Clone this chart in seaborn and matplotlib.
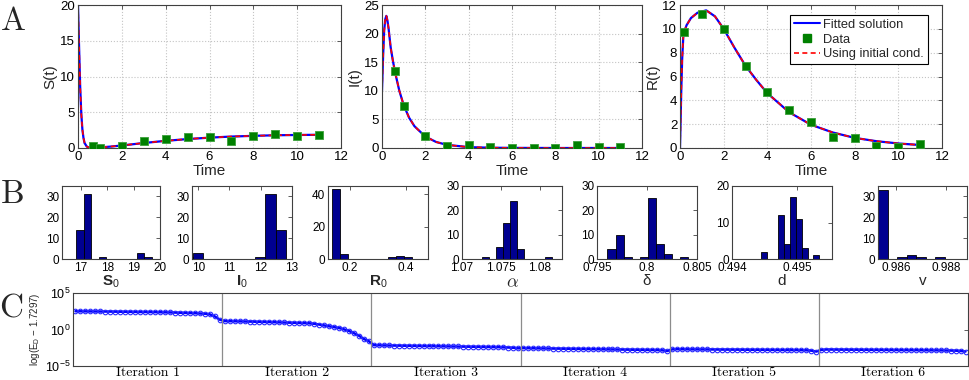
import numpy as np
import pandas as pd
import matplotlib
matplotlib.use("Agg")
import matplotlib.pyplot as plt
import seaborn as sns
from matplotlib.lines import Line2D
from matplotlib.ticker import LogFormatterMathtext, NullLocator

# ---------------- panel A: model curves and observed data ----------------
t_S = [0, 0.05, 0.1, 0.15, 0.2, 0.25, 0.3, 0.4, 0.5, 0.7, 1.0, 1.5, 2, 3, 4, 5, 6, 7, 8, 9, 10, 11]
S_fit = [20, 14, 8.5, 4.8, 2.6, 1.4, 0.7, 0.2, 0.06, 0.02, 0.08, 0.2, 0.35, 0.7, 1.0, 1.25, 1.45, 1.6, 1.7, 1.78, 1.82, 1.85]
t_I = [0, 0.05, 0.1, 0.15, 0.2, 0.25, 0.3, 0.4, 0.5, 0.6, 0.8, 1.0, 1.25, 1.5, 2, 2.5, 3, 4, 5, 6, 8, 11]
I_fit = [10, 16, 20.5, 22.5, 23.1, 22.3, 21, 17.6, 15.3, 13.3, 10, 7.5, 5.3, 3.8, 2.0, 1.05, 0.55, 0.15, 0.05, 0.02, 0.0, 0.0]
t_R = [0, 0.03, 0.06, 0.1, 0.15, 0.2, 0.3, 0.5, 0.8, 1.2, 1.6, 2, 2.5, 3, 3.5, 4, 5, 6, 7, 8, 9, 10, 11]
R_fit = [0, 2.5, 5, 7.5, 9.3, 9.8, 10.3, 10.9, 11.35, 11.55, 11.05, 10.0, 8.4, 6.9, 5.7, 4.6, 3.0, 1.95, 1.3, 0.85, 0.57, 0.38, 0.25]

tS_obs = [0.67, 1, 2, 3, 4, 5, 6, 7, 8, 9, 10, 11]
S_obs = [0.23, 0.0, 0.28, 0.98, 1.26, 1.53, 1.49, 1.02, 1.72, 2.0, 1.72, 1.86]
tI_obs = [0.6, 1, 2, 3, 4, 5, 6, 7, 8, 9, 10, 11]
I_obs = [13.4, 7.4, 2.15, 0.4, 0.52, 0.17, 0.05, 0.05, 0.05, 0.52, 0.23, 0.1]
tR_obs = [0.17, 1, 2, 3, 4, 5, 6, 7, 8, 9, 10, 11]
R_obs = [9.75, 11.25, 10.0, 6.85, 4.7, 3.2, 2.15, 0.95, 0.8, 0.2, 0.1, 0.3]

legend_labels = ["Fitted solution", "Data", "Using initial cond."]

# ---------------- panel B: bootstrap histograms (10 bins each) ----------------
S0_range = (16.81, 19.70)
S0_counts = [14, 31, 0, 1, 0, 0, 0, 0, 3, 1]
I0_range = (9.50, 12.81)
I0_counts = [1, 3, 0, 0, 0, 0, 0, 1, 31, 14]
R0_range = (0.137, 0.4225)
R0_counts = [43, 3, 0, 0, 0, 0, 0, 1, 2, 1]
alpha_range = (1.0726, 1.08158)
alpha_counts = [1, 0, 5, 15, 24, 4, 0, 0, 0, 1]
delta_range = (0.79605, 0.80409)
delta_counts = [4, 10, 1, 0, 1, 25, 6, 2, 0, 1]
d_range = (0.494442, 0.495343)
d_counts = [2, 0, 0, 12, 4, 17, 11, 3, 0, 1]
v_range = (0.98529, 0.98797)
v_counts = [33, 0, 1, 2, 1, 0, 1]

# ---------------- panel C: convergence of the error, log10(E_D - 1.7297) ----------------
iter1 = [2.50, 2.49, 2.49, 2.48, 2.47, 2.47, 2.46, 2.45, 2.44, 2.44, 2.43, 2.42, 2.41, 2.40, 2.40,
         2.39, 2.38, 2.37, 2.36, 2.34, 2.32, 2.30, 2.28, 2.26, 2.23, 2.20, 2.16, 2.08, 1.80, 1.35]
iter2 = [1.15, 1.14, 1.13, 1.11, 1.10, 1.08, 1.07, 1.05, 1.04, 1.02, 1.00, 0.98, 0.96, 0.94, 0.92,
         0.90, 0.88, 0.85, 0.78, 0.68, 0.56, 0.45, 0.32, 0.20, 0.02, -0.20, -0.50, -0.85, -1.30, -1.60]
iter3 = [-2.15, -2.17, -2.18, -2.19, -2.20, -2.21, -2.21, -2.22, -2.23, -2.24, -2.25, -2.26, -2.27, -2.28, -2.29,
         -2.30, -2.31, -2.32, -2.33, -2.34, -2.35, -2.36, -2.38, -2.39, -2.40, -2.42, -2.44, -2.47, -2.50, -2.58]
iter4 = [-2.55, -2.56, -2.57, -2.58, -2.59, -2.60, -2.61, -2.62, -2.63, -2.64, -2.65, -2.66, -2.67, -2.68, -2.68,
         -2.69, -2.70, -2.71, -2.72, -2.73, -2.74, -2.75, -2.76, -2.77, -2.78, -2.79, -2.80, -2.82, -2.85, -2.95]
iter5 = [-2.72, -2.70, -2.71, -2.71, -2.72, -2.72, -2.73, -2.73, -2.74, -2.74, -2.75, -2.75, -2.76, -2.76, -2.77,
         -2.77, -2.78, -2.78, -2.79, -2.79, -2.80, -2.80, -2.81, -2.81, -2.82, -2.82, -2.83, -2.85, -2.90, -3.02]
iter6 = [-2.80, -2.74, -2.75, -2.75, -2.76, -2.76, -2.77, -2.77, -2.78, -2.78, -2.79, -2.79, -2.80, -2.80, -2.81,
         -2.81, -2.82, -2.82, -2.83, -2.83, -2.84, -2.84, -2.85, -2.85, -2.86, -2.87, -2.88, -2.90, -2.94, -3.02]
iter_labels = ["Iteration 1", "Iteration 2", "Iteration 3", "Iteration 4", "Iteration 5", "Iteration 6"]

# ---------------- style ----------------
sns.set_style("white")
plt.rcParams["font.family"] = ["Liberation Sans", "DejaVu Sans"]
plt.rcParams["mathtext.fontset"] = "custom"
plt.rcParams["mathtext.rm"] = "Liberation Sans"
plt.rcParams["mathtext.it"] = "Liberation Sans:italic"
plt.rcParams["mathtext.bf"] = "Liberation Sans:bold"

W, H = 969, 380
fig = plt.figure(figsize=(W / 100, H / 100), dpi=100)


def add_ax(l, t, r, b):
    return fig.add_axes([l / W, 1 - b / H, (r - l) / W, (b - t) / H])


def matlab_box(ax, size):
    for s in ax.spines.values():
        s.set_visible(True)
        s.set_color("#404040")
        s.set_linewidth(0.8)
    ax.tick_params(direction="in", top=True, right=True, length=3, width=0.6,
                   color="#404040", labelcolor="black", labelsize=size, pad=2)


# ---- A ----
a_panels = [
    ((78, 5, 341, 148), t_S, S_fit, tS_obs, S_obs, "S(t)", (0, 20), [0, 5, 10, 15, 20]),
    ((382, 5, 642, 148), t_I, I_fit, tI_obs, I_obs, "I(t)", (0, 25), [0, 5, 10, 15, 20, 25]),
    ((680, 5, 942, 148), t_R, R_fit, tR_obs, R_obs, "R(t)", (0, 12), [0, 2, 4, 6, 8, 10, 12]),
]
for box, tc, yc, to, yo, ylab, ylim, yt in a_panels:
    ax = add_ax(*box)
    sns.lineplot(x=tc, y=yc, ax=ax, color="blue", lw=1.6, estimator=None, sort=False)
    sns.lineplot(x=tc, y=yc, ax=ax, color="red", lw=1.2, linestyle=(0, (3, 2)), estimator=None, sort=False)
    sns.scatterplot(x=to, y=yo, ax=ax, marker="s", s=26, color="#008000",
                    edgecolor="#3aa03a", linewidth=0.6, zorder=4)
    ax.set_xlim(0, 12)
    ax.set_ylim(*ylim)
    ax.set_xticks([0, 2, 4, 6, 8, 10, 12])
    ax.set_yticks(yt)
    ax.grid(True, linestyle=":", color="#c4c4c4", lw=0.8)
    matlab_box(ax, 9.5)
    ax.set_xlabel("Time", fontsize=11, labelpad=1)
    ax.set_ylabel(ylab, fontsize=11, labelpad=2)

handles = [Line2D([], [], color="blue", lw=1.5),
           Line2D([], [], marker="s", ls="none", color="#008000", ms=5.5),
           Line2D([], [], color="red", lw=1.2, ls=(0, (3, 2)))]
leg = ax.legend(handles, legend_labels, loc="upper right", bbox_to_anchor=(0.947, 0.93),
                frameon=True, fancybox=False, edgecolor="black", framealpha=1, fontsize=9.3,
                handlelength=2.0, handletextpad=0.3, borderpad=0.3, labelspacing=0.2,
                borderaxespad=0)
leg.get_frame().set_linewidth(0.8)

# ---- B ----
b_panels = [
    ((62, 160), (16.28, 20.0), [17, 18, 19, 20], ["17", "18", "19", "20"], 35, [0, 10, 20, 30],
     S0_range, S0_counts, r"$\mathbf{S}_{0}$", {}),
    ((192, 292), (9.8, 13.0), [10, 11, 12, 13], ["10", "11", "12", "13"], 35, [0, 10, 20, 30],
     I0_range, I0_counts, r"$\mathbf{I}_{0}$", {}),
    ((328, 428), (0.1214, 0.4786), [0.2, 0.4], ["0.2", "0.4"], 45, [0, 20, 40],
     R0_range, R0_counts, r"$\mathbf{R}_{0}$", {}),
    ((462, 562), (1.07, 1.08282), [1.07, 1.075, 1.08], ["1.07", "1.075", "1.08"], 30, [0, 10, 20, 30],
     alpha_range, alpha_counts, r"$\alpha$", {"math_fontfamily": "cm", "fontsize": 13}),
    ((597, 697), (0.795, 0.805), [0.795, 0.8, 0.805], ["0.795", "0.8", "0.805"], 30, [0, 10, 20, 30],
     delta_range, delta_counts, "δ", {}),
    ((732, 832), (0.494, 0.495538), [0.494, 0.495], ["0.494", "0.495"], 20, [0, 10, 20],
     d_range, d_counts, "d", {}),
    ((878, 967), (0.98529, 0.98885), [0.986, 0.988], ["0.986", "0.988"], 35, [0, 10, 20, 30],
     v_range, v_counts, "v", {}),
]
for (l, r), xlim, xt, xtl, ytop, yt, rng, counts, lab, kw in b_panels:
    ax = add_ax(l, 186, r, 259)
    edges = np.linspace(rng[0], rng[1], len(counts) + 1)
    hist_df = pd.DataFrame({"value": (edges[:-1] + edges[1:]) / 2, "count": counts})
    sns.histplot(data=hist_df, x="value", weights="count", bins=edges.tolist(), ax=ax,
                 color="#000090", edgecolor="black", linewidth=0.6, alpha=1)
    ax.set_xlim(*xlim)
    ax.set_ylim(0, ytop)
    ax.set_xticks(xt)
    ax.set_xticklabels(xtl)
    ax.set_yticks(yt)
    ax.set_ylabel("")
    matlab_box(ax, 8.5)
    ax.set_xlabel(lab, fontsize=kw.pop("fontsize", 11), labelpad=0, **kw)

# ---- C ----
logs = [iter1, iter2, iter3, iter4, iter5, iter6]
rows = []
for k, vals in enumerate(logs):
    n = len(vals)
    for j, v in enumerate(vals):
        rows.append({"pos": k + (j + 0.5) / n, "err": 10.0 ** v})
conv = pd.DataFrame(rows)

axc = add_ax(73, 293, 968, 366)
sns.lineplot(data=conv, x="pos", y="err", ax=axc, estimator=None, sort=False, color="blue",
             lw=1.8, marker="o", markersize=3.3, markerfacecolor="none",
             markeredgecolor="#2a2aff", markeredgewidth=0.8)
axc.set_yscale("log")
axc.set_ylim(1e-5, 1e5)
axc.set_xlim(0, 6)
for k in range(1, 6):
    axc.axvline(k, color="#8c8c8c", lw=0.9)
axc.set_yticks([1e-5, 1e0, 1e5])
axc.yaxis.set_major_formatter(LogFormatterMathtext())
axc.yaxis.set_minor_locator(NullLocator())
matlab_box(axc, 9)
axc.set_xticks(np.arange(6) + 0.5)
axc.set_xticklabels(iter_labels, fontfamily="cmr10", fontsize=10)
axc.tick_params(axis="x", length=0, pad=1, top=False)
axc.set_xlabel("")
axc.set_ylabel(r"log(E$_\mathrm{D}$ $-$ 1.7297)", fontsize=7, labelpad=2)

# panel letters
for letter, (x, y) in zip("ABC", [(13, 21), (13, 194), (11, 309)]):
    fig.text(x / W, 1 - y / H, letter, fontfamily="cmr10", fontsize=24, ha="center", va="center")

fig.savefig("out.png", dpi=100)
